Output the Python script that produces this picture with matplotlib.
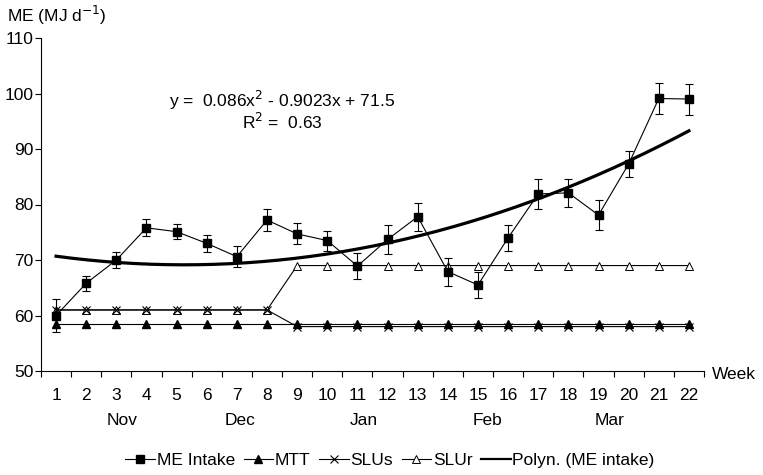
import numpy as np
import matplotlib
matplotlib.use("Agg")
import matplotlib.pyplot as plt
from matplotlib.lines import Line2D

plt.rcParams['font.family'] = ['Liberation Sans', 'DejaVu Sans']
plt.rcParams['font.size'] = 12.5

weeks = list(range(1, 23))
me_intake = [60.0, 65.8, 70.0, 75.8, 75.1, 73.0, 70.6, 77.2, 74.7, 73.5, 68.9,
             73.7, 77.8, 67.9, 65.5, 74.0, 81.9, 82.1, 78.1, 87.3, 99.1, 99.0]
me_err = [3.0, 1.4, 1.5, 1.5, 1.4, 1.5, 1.9, 1.9, 1.9, 1.8, 2.3,
          2.6, 2.5, 2.5, 2.4, 2.3, 2.7, 2.5, 2.7, 2.4, 2.8, 2.8]
mtt = [58.5] * 22
slus = [61.0] * 8 + [58.0] * 14
slur = [61.0] * 8 + [69.0] * 14
poly_coef = [0.086, -0.9023, 71.5]
months = ['Nov', 'Dec', 'Jan', 'Feb', 'Mar']
month_pos = [3.2, 7.1, 11.2, 15.3, 19.35]

fig = plt.figure(figsize=(7.63, 4.75), dpi=100)
ax = fig.add_axes([41/763, 1-371/475, 663/763, 333/475])

x = np.array(weeks)
ax.plot(x, slur, color='black', lw=0.8, marker='^', mfc='white', mec='black',
        ms=6, mew=0.7, zorder=3)
ax.plot(x, slus, color='black', lw=0.8, marker='x', ms=6, mew=0.8, zorder=4)
ax.plot(x, mtt, color='black', lw=0.8, marker='^', ms=6, zorder=4)
xf = np.linspace(1, 22, 200)
ax.plot(xf, np.polyval(poly_coef, xf), color='black', lw=2.3, zorder=5)
ax.errorbar(x, me_intake, yerr=me_err, color='black', lw=0.8, marker='s',
            ms=6, capsize=3, elinewidth=0.8, capthick=0.8, zorder=6)

ax.set_xlim(0.5, 22.5)
ax.set_ylim(50, 110)
ax.set_yticks(range(50, 111, 10))
ax.set_xticks(np.arange(0.5, 23, 1))
ax.set_xticklabels([])
ax.set_xticks(x, minor=True)
ax.set_xticklabels([str(w) for w in weeks], minor=True)
ax.tick_params(axis='x', which='minor', length=0, pad=12, labelsize=12.5)
ax.tick_params(axis='x', which='major', length=4, direction='out', width=0.8)
ax.tick_params(axis='y', length=4, width=0.8, labelsize=12.5, pad=1.5)
for s in ['top', 'right']:
    ax.spines[s].set_visible(False)
for s in ['left', 'bottom']:
    ax.spines[s].set_linewidth(0.8)

for m, p in zip(months, month_pos):
    ax.text(p, -0.148, m, transform=ax.get_xaxis_transform(), ha='center',
            va='center', fontsize=12.5)
ax.text(1.012, -0.012, 'Week', transform=ax.transAxes, ha='left', va='center', fontsize=12.5)
fig.text(7/763, 1-15/475, 'ME (MJ d$^{-1}$)', ha='left', va='center', fontsize=12.5)

ax.text(8.5, 98.8, 'y =  0.086x$^2$ - 0.9023x + 71.5', ha='center', va='center', fontsize=12.5)
ax.text(8.5, 94.9, 'R$^2$ =  0.63', ha='center', va='center', fontsize=12.5)

handles = [
    Line2D([], [], color='black', lw=0.8, marker='s', ms=6),
    Line2D([], [], color='black', lw=0.8, marker='^', ms=6),
    Line2D([], [], color='black', lw=0.8, marker='x', ms=6, mew=0.8),
    Line2D([], [], color='black', lw=0.8, marker='^', ms=6, mfc='white', mew=0.7),
    Line2D([], [], color='black', lw=1.6),
]
labels = ['ME Intake', 'MTT', 'SLUs', 'SLUr', 'Polyn. (ME intake)']
fig.legend(handles, labels, loc='center', ncol=5,
           bbox_to_anchor=(390/763, 1-460/475), frameon=False,
           handlelength=1.7, handletextpad=0.1, columnspacing=0.5,
           fontsize=12.5)

fig.savefig('out.png', dpi=100)
